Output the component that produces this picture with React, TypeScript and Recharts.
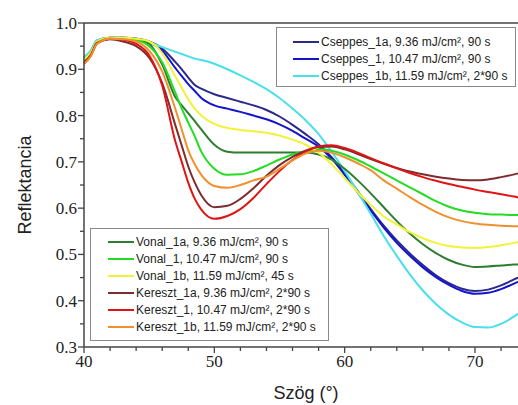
import React from 'react'
import { LineChart, Line, XAxis, YAxis, ReferenceLine } from 'recharts'

// Beesési szög (°)
const angles = [40, 40.5, 41, 42, 43, 44, 45, 46, 47, 47.5, 48, 48.5, 49, 50, 51, 52, 53, 54, 55, 56, 57, 58, 59, 60, 61, 62, 63, 64, 65, 66, 67, 68, 69, 70, 71, 72, 73, 73.3]

// Reflektancia értékek, soronként az angles tömbhöz igazítva
const cseppes1a = [0.925, 0.938, 0.962, 0.968, 0.968, 0.966, 0.96, 0.945, 0.916, 0.9, 0.882, 0.866, 0.858, 0.846, 0.838, 0.83, 0.822, 0.812, 0.798, 0.78, 0.76, 0.738, 0.71, 0.675, 0.637, 0.598, 0.562, 0.53, 0.502, 0.477, 0.455, 0.438, 0.426, 0.421, 0.424, 0.433, 0.446, 0.45]
const cseppes1 = [0.925, 0.938, 0.962, 0.968, 0.968, 0.966, 0.958, 0.94, 0.903, 0.885, 0.868, 0.853, 0.838, 0.822, 0.815, 0.808, 0.8, 0.792, 0.781, 0.767, 0.75, 0.733, 0.707, 0.672, 0.634, 0.595, 0.558, 0.525, 0.497, 0.472, 0.451, 0.434, 0.421, 0.415, 0.417, 0.425, 0.437, 0.441]
const cseppes1b = [0.927, 0.94, 0.963, 0.968, 0.968, 0.965, 0.958, 0.948, 0.938, 0.933, 0.928, 0.923, 0.92, 0.912, 0.9, 0.887, 0.873, 0.857, 0.838, 0.815, 0.79, 0.76, 0.722, 0.68, 0.635, 0.588, 0.54, 0.497, 0.457, 0.422, 0.393, 0.37, 0.353, 0.343, 0.342, 0.35, 0.366, 0.372]
const vonal1a = [0.92, 0.933, 0.958, 0.967, 0.967, 0.965, 0.955, 0.91, 0.84, 0.822, 0.805, 0.788, 0.77, 0.737, 0.722, 0.72, 0.72, 0.72, 0.72, 0.72, 0.72, 0.716, 0.705, 0.685, 0.66, 0.632, 0.602, 0.572, 0.545, 0.522, 0.503, 0.488, 0.478, 0.473, 0.474, 0.476, 0.478, 0.478]
const vonal1 = [0.92, 0.932, 0.958, 0.967, 0.966, 0.963, 0.95, 0.915, 0.85, 0.815, 0.785, 0.755, 0.722, 0.685, 0.672, 0.673, 0.68, 0.692, 0.705, 0.716, 0.723, 0.727, 0.724, 0.716, 0.704, 0.69, 0.675, 0.66, 0.645, 0.63, 0.615, 0.603, 0.595, 0.59, 0.587, 0.586, 0.585, 0.585]
const vonal1b = [0.922, 0.935, 0.96, 0.968, 0.968, 0.966, 0.96, 0.935, 0.885, 0.86, 0.835, 0.815, 0.8, 0.782, 0.773, 0.769, 0.766, 0.763, 0.757, 0.748, 0.737, 0.72, 0.695, 0.665, 0.635, 0.607, 0.582, 0.565, 0.548, 0.535, 0.525, 0.518, 0.515, 0.514, 0.516, 0.52, 0.525, 0.527]
const kereszt1a = [0.914, 0.93, 0.957, 0.965, 0.96, 0.95, 0.925, 0.87, 0.78, 0.735, 0.69, 0.655, 0.628, 0.602, 0.605, 0.62, 0.643, 0.67, 0.693, 0.711, 0.724, 0.732, 0.733, 0.727, 0.717, 0.706, 0.696, 0.687, 0.679, 0.673, 0.668, 0.664, 0.661, 0.66, 0.662, 0.667, 0.673, 0.675]
const kereszt1 = [0.912, 0.928, 0.955, 0.966, 0.964, 0.955, 0.93, 0.865, 0.745, 0.7, 0.655, 0.62, 0.597, 0.577, 0.583, 0.598, 0.622, 0.652, 0.68, 0.704, 0.722, 0.733, 0.736, 0.73, 0.72, 0.708, 0.697, 0.686, 0.676, 0.667, 0.659, 0.652, 0.646, 0.64, 0.635, 0.63, 0.625, 0.623]
const kereszt1b = [0.912, 0.927, 0.955, 0.966, 0.965, 0.96, 0.94, 0.895, 0.815, 0.77, 0.725, 0.695, 0.672, 0.648, 0.644, 0.65, 0.66, 0.668, 0.685, 0.703, 0.718, 0.724, 0.72, 0.71, 0.697, 0.682, 0.66, 0.642, 0.624, 0.607, 0.592, 0.58, 0.572, 0.567, 0.564, 0.562, 0.561, 0.561]

const xTicks = [40, 42, 44, 46, 48, 50, 52, 54, 56, 58, 60, 62, 64, 66, 68, 70, 72]
const yTicks = [0.3, 0.35, 0.4, 0.45, 0.5, 0.55, 0.6, 0.65, 0.7, 0.75, 0.8, 0.85, 0.9, 0.95, 1.0]

const series = [
  { key: 'c1a', name: 'Cseppes_1a, 9.36 mJ/cm², 90 s', values: cseppes1a, color: '#2a2a8a', group: 1 },
  { key: 'c1', name: 'Cseppes_1, 10.47 mJ/cm², 90 s', values: cseppes1, color: '#1414cc', group: 1 },
  { key: 'c1b', name: 'Cseppes_1b, 11.59 mJ/cm², 2*90 s', values: cseppes1b, color: '#48e0ea', group: 1 },
  { key: 'v1a', name: 'Vonal_1a, 9.36 mJ/cm², 90 s', values: vonal1a, color: '#2f7d2f', group: 2 },
  { key: 'v1', name: 'Vonal_1, 10.47 mJ/cm², 90 s', values: vonal1, color: '#22dd22', group: 2 },
  { key: 'v1b', name: 'Vonal_1b, 11.59 mJ/cm², 45 s', values: vonal1b, color: '#f2f23a', group: 2 },
  { key: 'k1a', name: 'Kereszt_1a, 9.36 mJ/cm², 2*90 s', values: kereszt1a, color: '#7e2c30', group: 2 },
  { key: 'k1', name: 'Kereszt_1, 10.47 mJ/cm², 2*90 s', values: kereszt1, color: '#e01414', group: 2 },
  { key: 'k1b', name: 'Kereszt_1b, 11.59 mJ/cm², 2*90 s', values: kereszt1b, color: '#f0902e', group: 2 },
]

const data = angles.map((a, i) => {
  const row: Record<string, number> = { deg: a }
  series.forEach((s) => { row[s.key] = s.values[i] })
  return row
})

const AXIS = '#444'
const serif = '"Liberation Serif", "Times New Roman", serif'
const sans = '"Liberation Sans", Arial, sans-serif'

function YTick(props: any) {
  const { x, y, payload } = props
  const v = payload.value
  const major = Math.abs(v * 10 - Math.round(v * 10)) < 1e-6
  return (
    <g>
      <line x1={x - (major ? 6 : 4)} x2={x} y1={y} y2={y} stroke={AXIS} strokeWidth={1.3} />
      {major && (
        <text x={x - 7} y={y + 6} textAnchor="end" fontFamily={serif} fontSize={17} fill="#222">
          {v.toFixed(1)}
        </text>
      )}
    </g>
  )
}

function XTick(props: any) {
  const { x, y, payload } = props
  const v = payload.value
  const major = v % 10 === 0
  return (
    <g>
      <line x1={x} x2={x} y1={y} y2={y + (major ? 6 : 4)} stroke={AXIS} strokeWidth={1.3} />
      {major && (
        <text x={x} y={y + 20} textAnchor="middle" fontFamily={serif} fontSize={17} fill="#222">
          {v}
        </text>
      )}
    </g>
  )
}

function LegendBox({ group, style }: { group: number; style: React.CSSProperties }) {
  return (
    <div
      style={{
        position: 'absolute',
        boxSizing: 'border-box',
        border: '1.5px solid #8a8a8a',
        background: '#fff',
        fontFamily: sans,
        fontSize: 12,
        color: '#222',
        ...style,
      }}
    >
      {series.filter((s) => s.group === group).map((s) => (
        <div key={s.key} style={{ display: 'flex', alignItems: 'center', height: 17, whiteSpace: 'nowrap' }}>
          <span style={{ display: 'inline-block', width: 26, height: 2, background: s.color, marginRight: 2 }} />
          <span>{s.name}</span>
        </div>
      ))}
    </div>
  )
}

export default function App() {
  return (
    <div style={{ position: 'absolute', left: 0, top: 0, width: 518, height: 405, overflow: 'hidden', background: '#fff' }}>
      <LineChart width={518} height={405} data={data} margin={{ top: 23, right: 0, bottom: 0, left: 0 }}>
        <XAxis
          dataKey="deg"
          type="number"
          domain={[40, 73.3]}
          ticks={xTicks}
          interval={0}
          height={58}
          tickSize={0}
          tickMargin={0}
          tickLine={false}
          axisLine={{ stroke: AXIS, strokeWidth: 1.5 }}
          tick={<XTick />}
          label={{
            content: () => (
              <text x={306} y={399} textAnchor="middle" fontFamily={sans} fontSize={18} fill="#222">
                Szög (°)
              </text>
            ),
          }}
        />
        <YAxis
          type="number"
          domain={[0.3, 1]}
          ticks={yTicks}
          interval={0}
          width={84}
          tickSize={0}
          tickMargin={0}
          tickLine={false}
          axisLine={{ stroke: AXIS, strokeWidth: 1.5 }}
          tick={<YTick />}
          label={{
            content: () => (
              <text
                x={25}
                y={185}
                transform="rotate(-90, 25, 185)"
                textAnchor="middle"
                dominantBaseline="central"
                fontFamily={sans}
                fontSize={18}
                fill="#222"
              >
                Reflektancia
              </text>
            ),
          }}
        />
        <ReferenceLine y={1} stroke={AXIS} strokeWidth={1.5} />
        {series.map((s) => (
          <Line
            key={s.key}
            dataKey={s.key}
            name={s.name}
            type="monotone"
            stroke={s.color}
            strokeWidth={2}
            dot={false}
            isAnimationActive={false}
          />
        ))}
      </LineChart>
      <LegendBox group={1} style={{ left: 276, top: 27, width: 240, height: 60, padding: '5px 0 0 16px' }} />
      <LegendBox group={2} style={{ left: 90, top: 228, width: 239, height: 113, padding: '4px 0 0 17px' }} />
    </div>
  )
}
